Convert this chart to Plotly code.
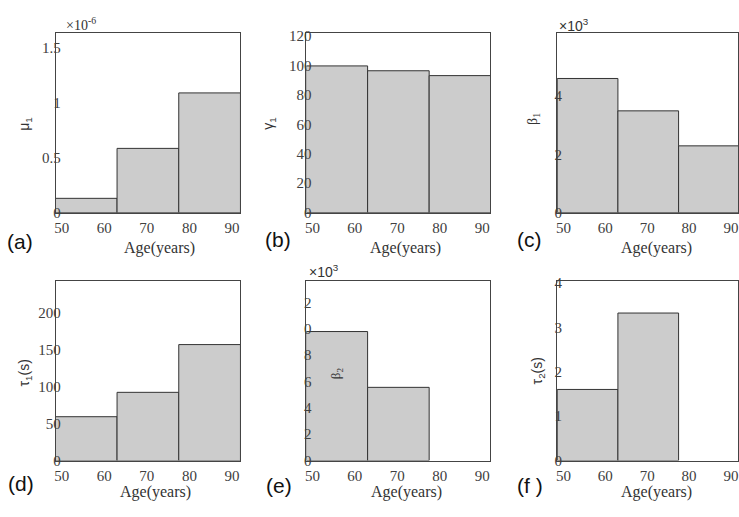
import plotly.graph_objects as go

W, H = 739, 517

# ---- data ----
age_centers = [55.75, 70.25, 84.75]
bar_width = 14.5
x_tick_vals = [50, 60, 70, 80, 90]
x_tick_text = ["50", "60", "70", "80", "90"]

mu1 = [0.13, 0.584, 1.088]        # x 10^-6
gamma1 = [99.8, 96.5, 93.2]
beta1 = [4.6, 3.49, 2.29]          # x 10^3
tau1 = [59.2, 92.1, 156.6]
beta2 = [9.8, 5.56, None]          # x 10^3 (no third bar)
tau2 = [1.6, 3.32, None]           # (no third bar)

mu1_ticks = [0, 0.5, 1, 1.5]
mu1_ticktext = ["0", "0.5", "1", "1.5"]
gamma1_ticks = [0, 20, 40, 60, 80, 100, 120]
gamma1_ticktext = ["0", "20", "40", "60", "80", "100", "120"]
beta1_ticks = [0, 2, 4]
beta1_ticktext = ["0", "2", "4"]
tau1_ticks = [0, 50, 100, 150, 200]
tau1_ticktext = ["0", "50", "100", "150", "200"]
beta2_ticks = [0, 2, 4, 6, 8, 10, 12]
beta2_ticktext = ["0", "2", "4", "6", "8", "0", "2"]
tau2_ticks = [0, 1, 2, 3, 4]
tau2_ticktext = ["0", "1", "2", "3", "4"]


def fx(p):
    return p / W


def fy(p):
    return 1 - p / H


SERIF = "Liberation Serif"
SANS = "Liberation Sans"
TICKCOL = "#404040"

# pixel geometry of panels: (left, right, x-range)
cols = [(54, 239, [48.6, 91.9]), (305.7, 490.3, [48.6, 91.9]),
        (557.3, 739, [48.45, 91.7])]
rows = [(29, 213), (282.7, 467.3)]

panels = [
    (mu1, [0, 1.63], mu1_ticks, mu1_ticktext),
    (gamma1, [0, 122], gamma1_ticks, gamma1_ticktext),
    (beta1, [0, 6.15], beta1_ticks, beta1_ticktext),
    (tau1, [0, 243], tau1_ticks, tau1_ticktext),
    (beta2, [0, 13.67], beta2_ticks, beta2_ticktext),
    (tau2, [0, 4.05], tau2_ticks, tau2_ticktext),
]

fig = go.Figure()
layout = {}
for i, (vals, yr, tv, tt) in enumerate(panels):
    r, c = divmod(i, 3)
    left, right, xr = cols[c]
    top, bottom = rows[r]
    n = "" if i == 0 else str(i + 1)
    fig.add_trace(go.Bar(
        x=age_centers, y=vals, width=bar_width,
        marker=dict(color="#cccccc", line=dict(color="#333333", width=1)),
        xaxis="x" + n, yaxis="y" + n, showlegend=False, hoverinfo="skip",
    ))
    layout["xaxis" + n] = dict(
        domain=[fx(left), fx(right)], range=xr, anchor="y" + n,
        tickvals=x_tick_vals, ticktext=x_tick_text, ticks="",
        showline=True, mirror=True, linecolor="#444444", linewidth=1,
        showgrid=False, zeroline=False,
        tickfont=dict(family=SERIF, size=15, color=TICKCOL),
        ticklabelstandoff=1, ticklabeloverflow="allow", fixedrange=True,
    )
    layout["yaxis" + n] = dict(
        domain=[fy(bottom), fy(top)], range=yr, anchor="x" + n,
        tickvals=tv, ticktext=tt, ticks="",
        showline=True, mirror=True, linecolor="#444444", linewidth=1,
        showgrid=False, zeroline=False,
        tickfont=dict(family=SERIF, size=15, color=TICKCOL),
        ticklabelstandoff=-9, ticklabeloverflow="allow", fixedrange=True,
    )
    # right-hand inside ticks, drawn beneath the bars
    k = str(i + 7)
    layout["yaxis" + k] = dict(
        overlaying="y" + n, side="right", anchor="x" + n, range=yr,
        tickvals=tv, ticks="inside", ticklen=4, tickcolor="#666666",
        showticklabels=False, showline=False, showgrid=False,
        zeroline=False, layer="below traces", fixedrange=True,
    )

ann = []


def add_text(text, x, y, size=15, family=SERIF, color="#333333", angle=0,
             xanchor="center"):
    ann.append(dict(text=text, x=fx(x), y=fy(y), xref="paper", yref="paper",
                    showarrow=False, textangle=angle, xanchor=xanchor,
                    yanchor="middle",
                    font=dict(family=family, size=size, color=color)))


# panel letters
for lab, x, y in [("(a)", 18, 243), ("(b)", 277, 241), ("(c)", 530, 241),
                  ("(d)", 19, 491), ("(e)", 278, 493), ("(f )", 530, 493)]:
    add_text(lab, x, y, size=21, family=SANS, color="#111111")

# x titles
for x, y in [(158, 249), (405, 249), (657, 249), (154, 500), (406, 500), (657, 500)]:
    add_text("Age(years)", x, y, size=16)

# y titles
add_text("μ<sub>1</sub>", 23, 122, size=14, family=SANS, angle=-90)
add_text("γ<sub>1</sub>", 268, 122, size=14, family=SANS, angle=-90)
add_text("β<sub>1</sub>", 533, 117, size=14, family=SERIF, angle=-90)
add_text("τ<sub>1</sub>(s)", 23, 377, size=14, family=SANS, angle=-90)
add_text("β<sub>2</sub>", 336, 378, size=13, family=SERIF, angle=-90)
add_text("τ<sub>2</sub>(s)", 538, 375, size=14, family=SANS, angle=-90)

# multipliers
add_text("×10<sup>-6</sup>", 62, 20, size=14, family=SERIF, xanchor="left")
add_text("×10<sup>3</sup>", 557, 21, size=14, family=SANS, xanchor="left")
add_text("×10<sup>3</sup>", 306, 273, size=14, family=SANS, xanchor="left")

fig.update_layout(
    width=W, height=H, margin=dict(l=0, r=0, t=0, b=0),
    paper_bgcolor="white", plot_bgcolor="white",
    annotations=ann, bargap=0, **layout,
)

fig.write_html(
    "out.html",
    config={"displayModeBar": False, "staticPlot": True},
    post_script="document.body.style.margin='0';document.body.style.overflow='hidden';",
)
